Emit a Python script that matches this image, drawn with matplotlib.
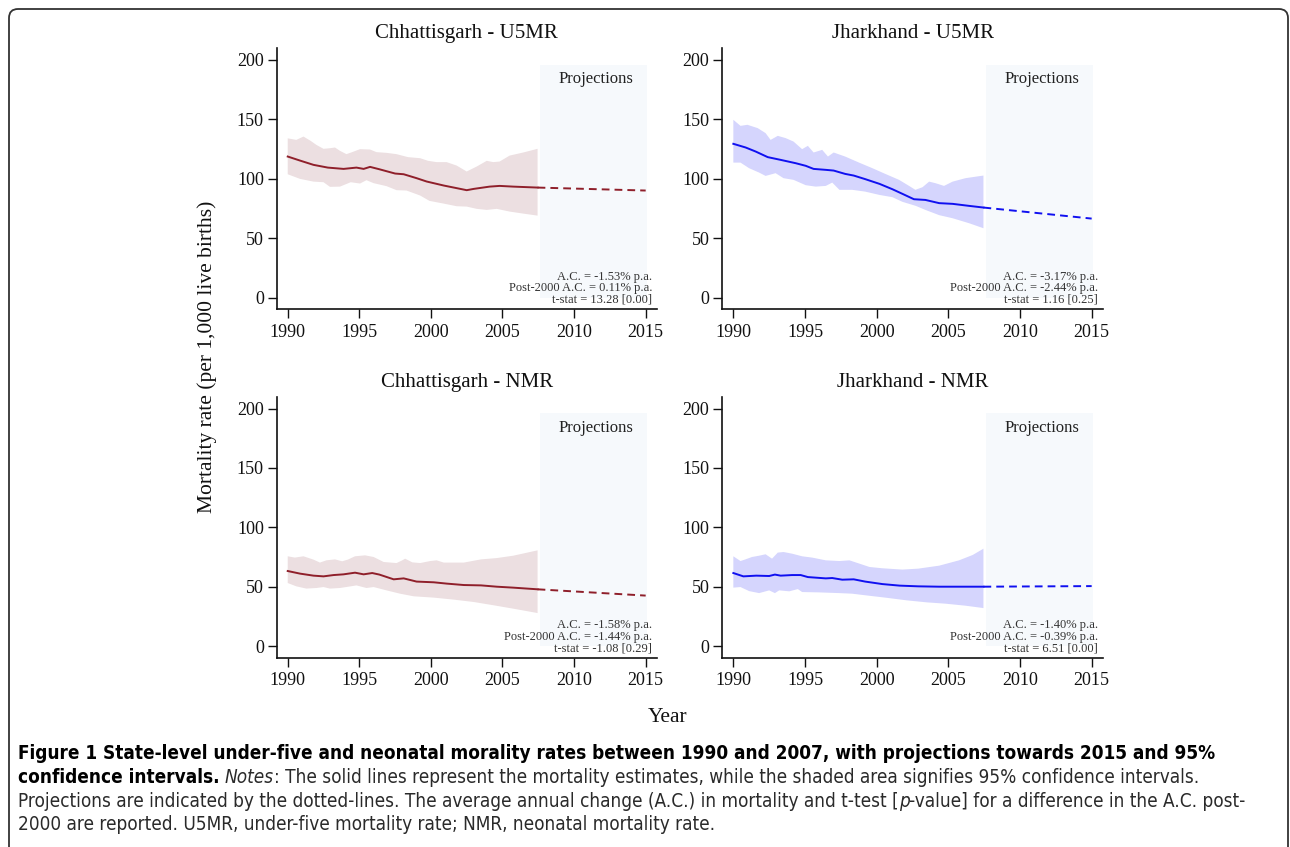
import numpy as np
import matplotlib
matplotlib.use("Agg")
import matplotlib.pyplot as plt
from matplotlib import font_manager
from matplotlib.patches import FancyBboxPatch, Rectangle
from matplotlib.transforms import IdentityTransform

# ---------------- data ----------------
# Chhattisgarh U5MR
cg_u5_line_x = [1990.0, 1990.86, 1991.8, 1992.8, 1993.9, 1994.8, 1995.3, 1995.75, 1996.4, 1997.5, 1998.1, 1999.0,
                1999.7, 2000.9, 2001.6, 2002.5, 2003.0, 2004.1, 2004.8, 2005.75, 2007.45]
cg_u5_line_y = [118.7, 115.3, 111.7, 109.4, 108.3, 109.4, 108.3, 110.0, 108.0, 104.4, 103.8, 100.5,
                97.7, 94.3, 92.6, 90.4, 91.5, 93.4, 94.0, 93.4, 92.6]
cg_u5_up_x = [1990.0, 1990.6, 1991.1, 1991.6, 1992.0, 1992.5, 1992.95, 1993.3, 1993.65, 1994.1, 1994.5, 1995.05,
              1995.75, 1996.2, 1996.9, 1997.6, 1998.4, 1999.25, 1999.8, 2000.4, 2001.1, 2001.8, 2002.5, 2003.2,
              2003.9, 2004.35, 2004.8, 2005.5, 2006.45, 2007.45]
cg_u5_up_y = [134.0, 132.7, 135.5, 131.9, 128.5, 125.2, 125.7, 126.3, 123.5, 120.7, 122.4, 124.9,
              124.6, 122.4, 121.8, 120.7, 118.2, 117.3, 115.1, 114.0, 114.0, 111.1, 106.1, 110.3,
              115.1, 114.0, 114.5, 119.5, 122.1, 125.2]
cg_u5_lo_x = [1990.0, 1990.86, 1991.8, 1992.5, 1992.95, 1993.65, 1994.4, 1995.05, 1995.5, 1996.0, 1996.9, 1997.6,
              1998.3, 1999.25, 1999.9, 2000.9, 2001.8, 2002.5, 2003.2, 2003.9, 2004.6, 2005.5, 2006.45, 2007.45]
cg_u5_lo_y = [103.8, 99.9, 97.6, 97.1, 93.2, 93.4, 97.1, 96.0, 98.8, 96.3, 93.8, 90.4,
              90.1, 85.9, 81.4, 79.1, 76.9, 76.6, 74.7, 73.8, 74.7, 72.4, 70.7, 69.0]
cg_u5_proj = [92.6, 90.1]

# Jharkhand U5MR
jh_u5_line_x = [1990.0, 1990.86, 1991.56, 1992.4, 1993.3, 1994.35, 1995.05, 1995.6, 1996.45, 1997.0, 1997.8, 1998.4,
                1999.2, 2000.2, 2001.1, 2001.8, 2002.6, 2003.4, 2004.36, 2005.3, 2006.45, 2007.45]
jh_u5_line_y = [129.4, 126.3, 122.9, 118.2, 115.9, 113.1, 110.9, 108.3, 107.5, 106.9, 104.1, 102.7,
                99.7, 95.7, 91.2, 87.3, 82.8, 82.2, 79.5, 78.9, 77.2, 75.8]
jh_u5_up_x = [1990.0, 1990.5, 1990.98, 1991.7, 1992.25, 1992.6, 1993.1, 1993.65, 1994.2, 1994.8, 1995.2, 1995.6,
              1996.2, 1996.6, 1997.0, 1997.8, 1998.77, 1999.7, 2000.6, 2001.56, 2002.26, 2002.7, 2003.2, 2003.66,
              2004.1, 2004.7, 2005.3, 2006.2, 2007.45]
jh_u5_up_y = [149.6, 144.5, 145.4, 142.6, 138.4, 132.7, 136.1, 134.2, 131.3, 124.9, 127.7, 122.1,
              124.3, 118.7, 122.1, 118.7, 113.6, 108.9, 104.1, 99.1, 94.0, 90.7, 92.9, 97.6,
              96.3, 94.0, 97.6, 100.5, 102.7]
jh_u5_lo_x = [1990.0, 1990.5, 1991.1, 1991.8, 1992.25, 1992.95, 1993.5, 1994.2, 1995.05, 1995.75, 1996.45, 1996.9,
              1997.4, 1998.3, 1999.2, 2000.2, 2001.1, 2001.8, 2002.73, 2003.4, 2004.36, 2005.3, 2006.45, 2007.45]
jh_u5_lo_y = [113.6, 113.6, 108.9, 105.2, 102.4, 104.7, 100.5, 99.1, 94.6, 93.4, 94.0, 96.8,
              90.7, 90.7, 89.2, 86.4, 84.5, 80.6, 77.2, 73.8, 69.4, 66.8, 62.6, 58.4]
jh_u5_proj = [75.8, 66.5]

# Chhattisgarh NMR
cg_nm_line_x = [1990.0, 1990.86, 1991.8, 1992.5, 1993.2, 1993.9, 1994.7, 1995.3, 1995.9, 1996.4, 1997.4, 1998.1,
                1999.0, 2000.2, 2001.1, 2002.3, 2003.5, 2004.6, 2005.75, 2007.45]
cg_nm_line_y = [63.2, 61.0, 59.3, 58.7, 59.8, 60.4, 61.8, 60.4, 61.5, 60.2, 56.2, 57.0,
                54.3, 53.7, 52.6, 51.4, 51.1, 50.0, 49.2, 47.8]
cg_nm_up_x = [1990.0, 1990.5, 1991.1, 1991.8, 1992.25, 1992.7, 1993.3, 1993.8, 1994.2, 1994.7, 1995.4, 1996.0,
              1996.7, 1997.6, 1998.0, 1998.2, 1998.7, 1999.25, 1999.95, 2000.4, 2000.9, 2002.3, 2003.5, 2004.6,
              2005.75, 2007.45]
cg_nm_up_y = [75.6, 74.5, 75.6, 72.8, 70.3, 72.2, 73.0, 71.4, 72.8, 75.6, 76.4, 75.0,
              70.8, 69.9, 72.2, 73.6, 70.5, 69.9, 71.6, 72.2, 70.3, 70.3, 73.0, 74.1,
              76.1, 80.6]
cg_nm_lo_x = [1990.0, 1990.6, 1991.3, 1992.0, 1992.5, 1992.95, 1993.65, 1994.4, 1994.8, 1995.5, 1996.0, 1996.9,
              1997.85, 1998.8, 2000.2, 2001.6, 2003.0, 2004.4, 2005.75, 2007.45]
cg_nm_lo_y = [53.1, 50.3, 48.4, 48.9, 49.7, 48.4, 48.9, 50.3, 51.1, 48.9, 49.7, 46.9,
              44.1, 41.9, 40.8, 39.1, 37.1, 34.3, 31.5, 27.8]
cg_nm_proj = [47.8, 42.5]

# Jharkhand NMR
jh_nm_line_x = [1990.0, 1990.7, 1991.6, 1992.5, 1992.9, 1993.3, 1994.1, 1994.7, 1995.2, 1996.45, 1996.9, 1997.6,
                1998.4, 1999.2, 2000.4, 2001.6, 2002.9, 2004.36, 2005.75, 2007.45]
jh_nm_line_y = [61.5, 58.7, 59.3, 59.0, 60.2, 59.3, 59.8, 59.8, 58.1, 57.0, 57.3, 55.9,
                56.2, 54.3, 52.2, 50.9, 50.3, 50.0, 50.0, 50.0]
jh_nm_up_x = [1990.0, 1990.5, 1990.8, 1991.3, 1991.8, 1992.25, 1992.7, 1993.1, 1993.5, 1994.1, 1994.8, 1995.5,
              1996.45, 1997.4, 1998.1, 1998.8, 1999.5, 2000.4, 2001.8, 2002.9, 2004.36, 2005.75, 2006.7, 2007.45]
jh_nm_up_y = [75.6, 71.6, 72.8, 75.0, 76.1, 77.3, 73.6, 78.7, 79.2, 77.8, 75.6, 74.5,
              72.2, 71.6, 72.2, 69.4, 66.6, 65.5, 64.4, 65.2, 67.7, 72.2, 76.7, 82.0]
jh_nm_lo_x = [1990.0, 1990.5, 1991.1, 1991.8, 1992.5, 1992.9, 1993.2, 1993.9, 1994.5, 1994.8, 1996.0, 1997.4,
              1998.3, 1999.25, 2000.6, 2002.1, 2003.5, 2004.8, 2006.2, 2007.45]
jh_nm_lo_y = [49.2, 49.7, 46.3, 44.6, 46.9, 44.6, 46.9, 46.1, 48.0, 45.5, 45.2, 44.6,
              44.1, 42.7, 40.8, 38.5, 36.8, 35.7, 34.0, 32.0]
jh_nm_proj = [50.0, 50.5]

proj_years = [2007.45, 2015]

titles = ["Chhattisgarh - U5MR", "Jharkhand - U5MR", "Chhattisgarh - NMR", "Jharkhand - NMR"]
stats = [
    ["A.C. = -1.53% p.a.", "Post-2000 A.C. = 0.11% p.a.", "t-stat = 13.28 [0.00]"],
    ["A.C. = -3.17% p.a.", "Post-2000 A.C. = -2.44% p.a.", "t-stat = 1.16 [0.25]"],
    ["A.C. = -1.58% p.a.", "Post-2000 A.C. = -1.44% p.a.", "t-stat = -1.08 [0.29]"],
    ["A.C. = -1.40% p.a.", "Post-2000 A.C. = -0.39% p.a.", "t-stat = 6.51 [0.00]"],
]
x_ticks = [1990, 1995, 2000, 2005, 2010, 2015]
y_ticks = [0, 50, 100, 150, 200]

# ---------------- fonts ----------------
SERIF = "Liberation Serif"
plt.rcParams["font.family"] = [SERIF, "DejaVu Serif"]

# pick a condensed sans face for the caption, if one is installed
SANS, SANS_STRETCH = "DejaVu Sans", "normal"
for f in font_manager.fontManager.ttflist:
    low = (f.name + " " + f.fname).lower()
    if ("condensed" in low or "narrow" in low) and "sans" in low and "mono" not in low and "serif" not in f.name.lower():
        SANS = f.name
        SANS_STRETCH = f.stretch
        break

RED, RED_BAND = "#8f1f2a", "#ecdfe1"
BLUE, BLUE_BAND = "#1010f0", "#d5d5fd"
PROJ = "#f6f9fc"

W, H = 1290, 847
fig = plt.figure(figsize=(W / 100, H / 100), dpi=100)

def px_axes(x0, y_top, x1, y_bot):
    return fig.add_axes([x0 / W, 1 - y_bot / H, (x1 - x0) / W, (y_bot - y_top) / H])

axes = [
    px_axes(276.7, 48, 656.7, 309.3),
    px_axes(722.3, 48, 1102.7, 309.3),
    px_axes(276.7, 396.7, 656.7, 657.7),
    px_axes(722.3, 396.7, 1102.7, 657.7),
]

panels = [
    (cg_u5_line_x, cg_u5_line_y, cg_u5_up_x, cg_u5_up_y, cg_u5_lo_x, cg_u5_lo_y, cg_u5_proj, RED, RED_BAND),
    (jh_u5_line_x, jh_u5_line_y, jh_u5_up_x, jh_u5_up_y, jh_u5_lo_x, jh_u5_lo_y, jh_u5_proj, BLUE, BLUE_BAND),
    (cg_nm_line_x, cg_nm_line_y, cg_nm_up_x, cg_nm_up_y, cg_nm_lo_x, cg_nm_lo_y, cg_nm_proj, RED, RED_BAND),
    (jh_nm_line_x, jh_nm_line_y, jh_nm_up_x, jh_nm_up_y, jh_nm_lo_x, jh_nm_lo_y, jh_nm_proj, BLUE, BLUE_BAND),
]

for ax, title, st, (lx, ly, ux, uy, dx, dy, pr, col, band) in zip(axes, titles, stats, panels):
    ax.set_xlim(1989.23, 2015.77)
    ax.set_ylim(-9.8, 210)
    ax.add_patch(Rectangle((2007.65, 0), 7.42, 196, facecolor=PROJ, edgecolor="none", zorder=0))
    ax.fill(np.r_[ux, dx[::-1]], np.r_[uy, dy[::-1]], color=band, lw=0, zorder=1)
    ax.plot(lx, ly, color=col, lw=1.4, zorder=3)
    ax.plot(proj_years, pr, color=col, lw=1.4, ls=(0, (4, 2.6)), zorder=3)
    ax.text(2011.5, 184, "Projections", ha="center", va="center", fontsize=12, color="#222222")
    ax.text(2015.45, 8, "\n".join(st), ha="right", va="center", fontsize=9, color="#333333",
            linespacing=0.95)
    ax.set_title(title, fontsize=15, color="#111111", pad=7)
    ax.set_xticks(x_ticks)
    ax.set_yticks(y_ticks)
    ax.tick_params(direction="out", length=6.3, width=1.0, labelsize=13, colors="#111111", pad=3)
    ax.tick_params(axis="x", pad=4)
    for s in ("top", "right"):
        ax.spines[s].set_visible(False)
    for s in ("left", "bottom"):
        ax.spines[s].set_linewidth(1.2)
        ax.spines[s].set_color("#111111")
    ax.patch.set_alpha(0)

fig.text(207 / W, 1 - 357 / H, "Mortality rate (per 1,000 live births)", rotation=90,
         ha="center", va="center", fontsize=15.5, color="#111111")
fig.text(668 / W, 1 - 717 / H, "Year", ha="center", va="center", fontsize=15.5, color="#111111")

# ---------------- border ----------------
border = FancyBboxPatch((9, -30), 1279, H - 9 + 30, boxstyle="round,pad=0,rounding_size=9",
                        transform=IdentityTransform(), facecolor="none", edgecolor="#333333", lw=1.3)
fig.patches.append(border)

# ---------------- caption ----------------
cap_lines = [
    [("Figure 1 State-level under-five and neonatal morality rates between 1990 and 2007, with projections towards 2015 and 95%", "bold", "normal")],
    [("confidence intervals.", "bold", "normal"), (" ", "normal", "normal"), ("Notes", "normal", "italic"),
     (": The solid lines represent the mortality estimates, while the shaded area signifies 95% confidence intervals.", "normal", "normal")],
    [("Projections are indicated by the dotted-lines. The average annual change (A.C.) in mortality and t-test [", "normal", "normal"),
     ("p", "normal", "italic"), ("-value] for a difference in the A.C. post-", "normal", "normal")],
    [("2000 are reported. U5MR, under-five mortality rate; NMR, neonatal mortality rate.", "normal", "normal")],
]
cap_y = [753, 777, 801, 824]

renderer = fig.canvas.get_renderer()
probe = fig.text(0, 0, "".join(s for s, _, _ in cap_lines[2]), fontsize=10, family=SANS, stretch=SANS_STRETCH)
wprobe = probe.get_window_extent(renderer).width
probe.remove()
cap_fs = 10 * (1245 - 18) / wprobe

for segs, yy in zip(cap_lines, cap_y):
    x = 18.0
    for s, wgt, sty in segs:
        t = fig.text(x / W, 1 - yy / H, s, fontsize=cap_fs, family=SANS, stretch=SANS_STRETCH,
                     weight=wgt, style=sty, ha="left", va="center",
                     color="#000000" if wgt == "bold" else "#2a2a2a")
        x += t.get_window_extent(renderer).width

fig.savefig("out.png", dpi=100)
